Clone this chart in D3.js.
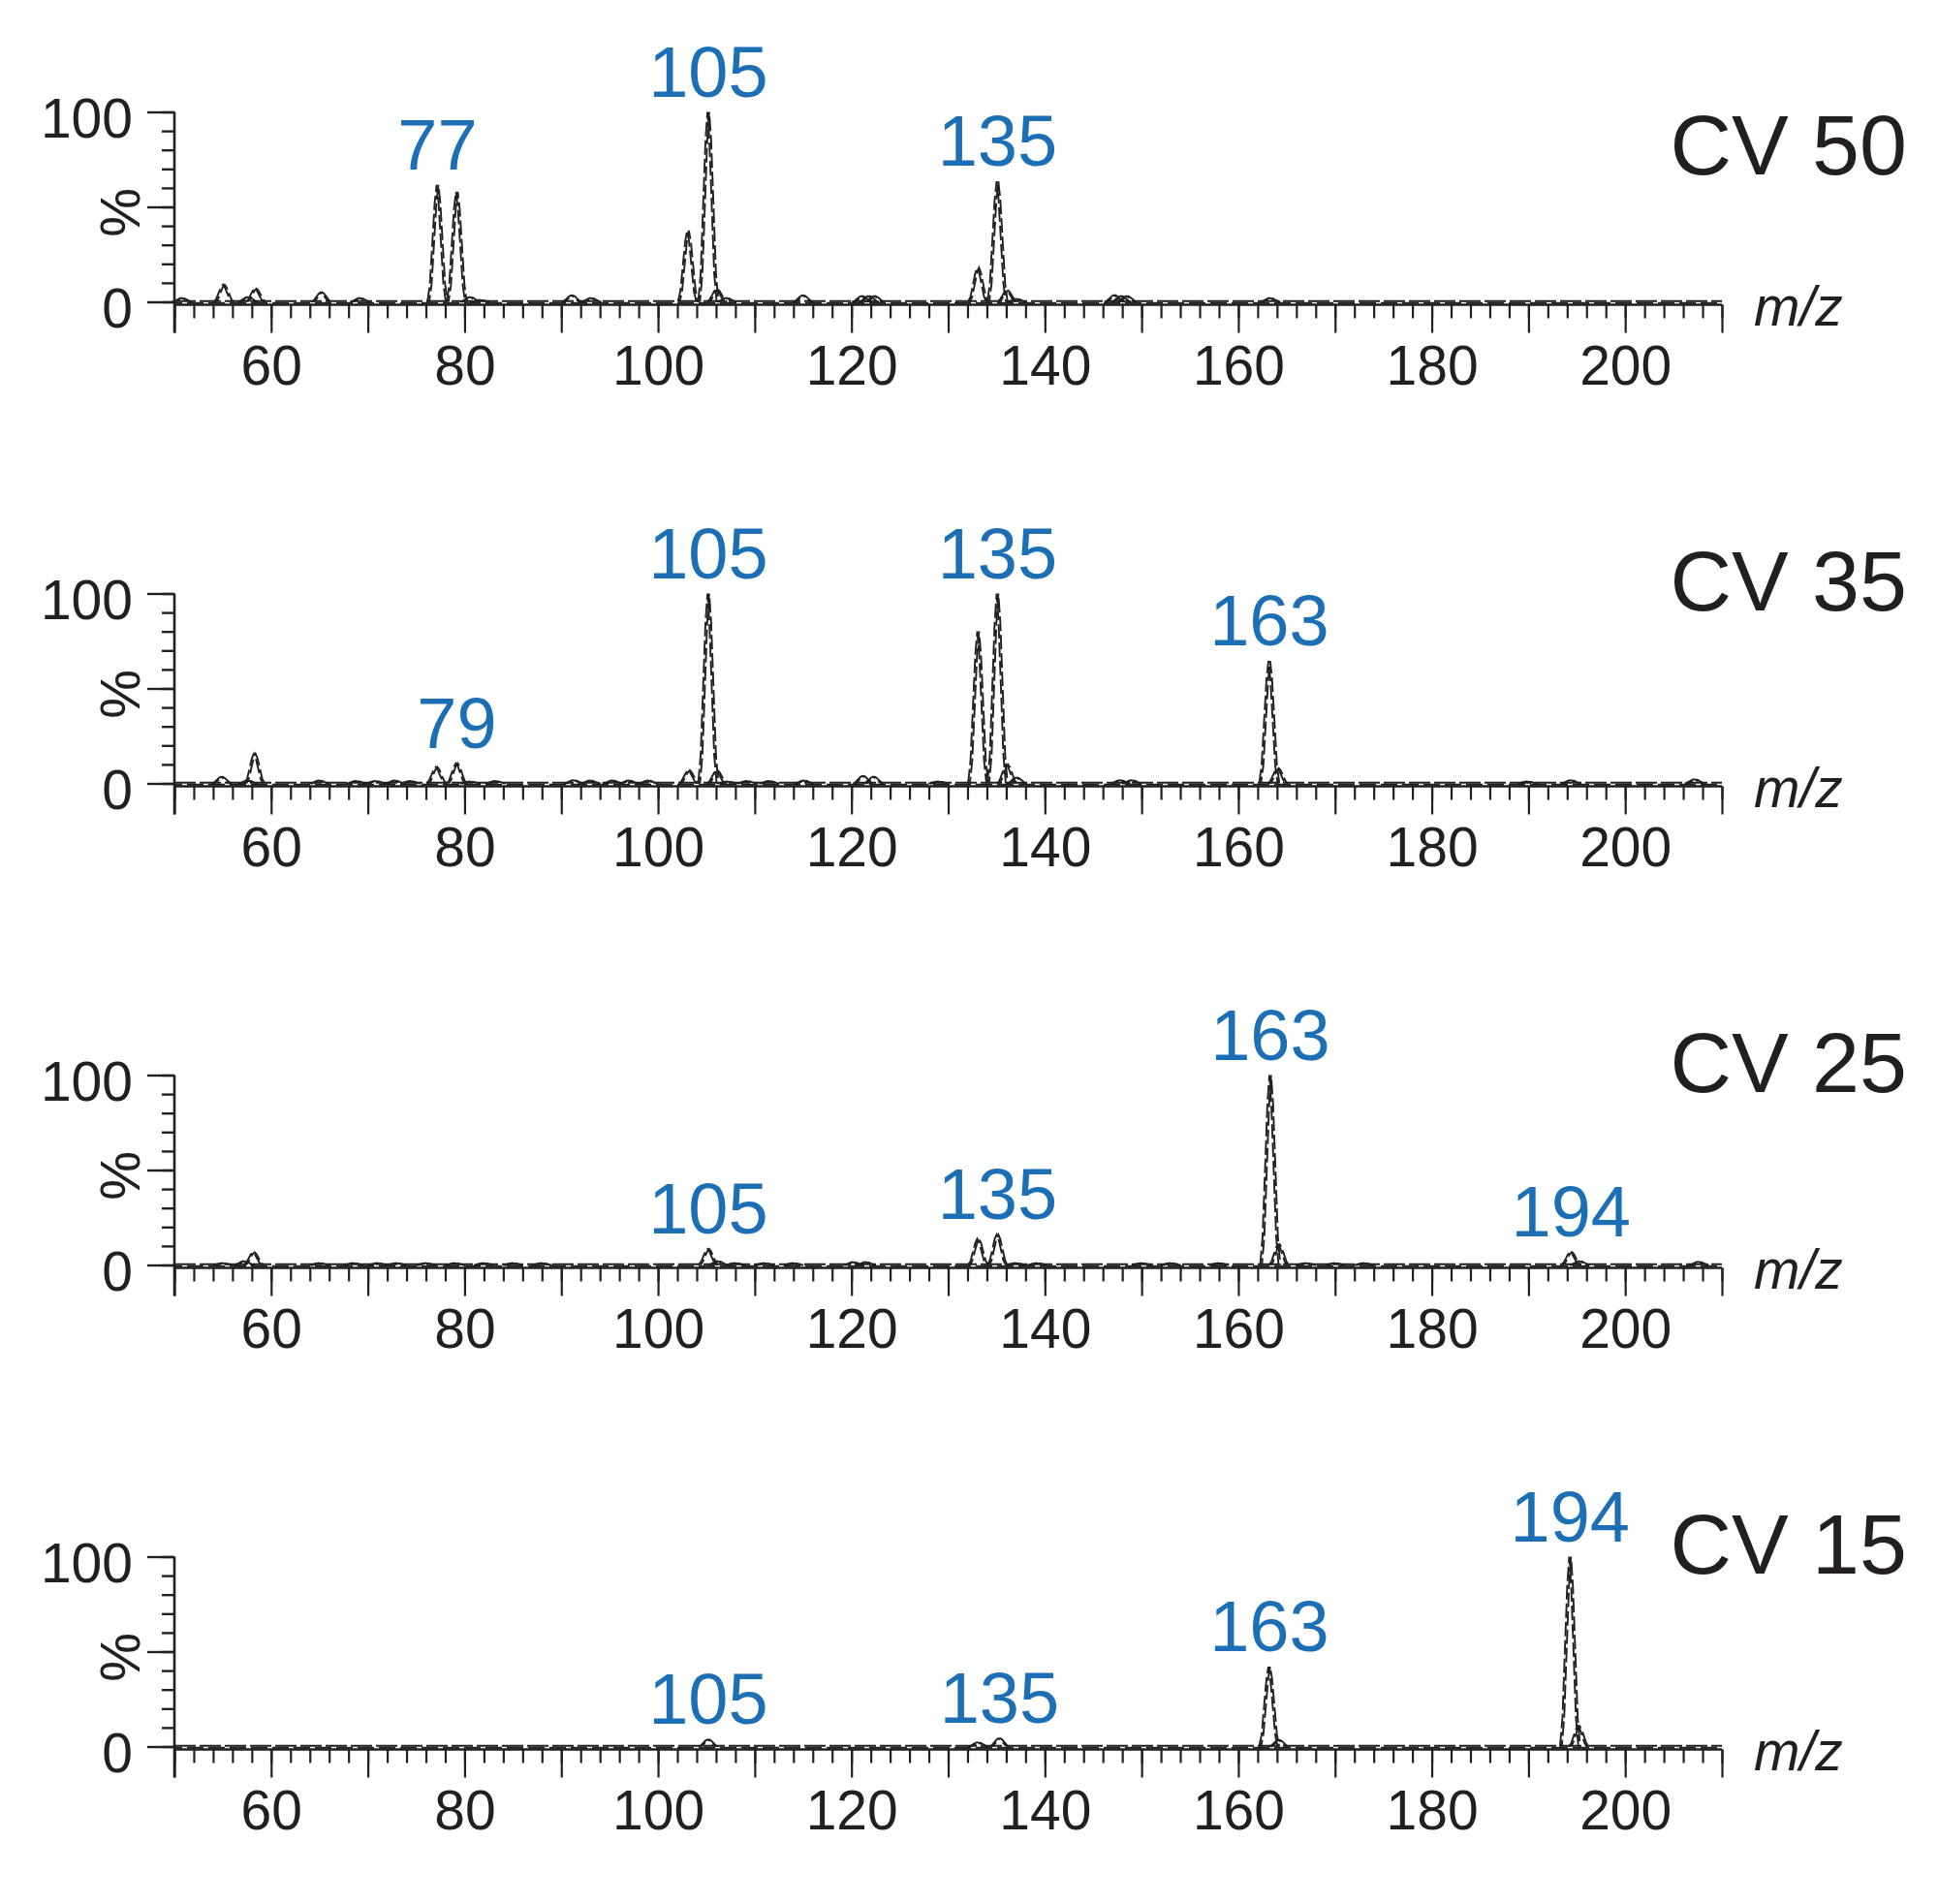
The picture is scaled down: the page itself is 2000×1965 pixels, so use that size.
<!DOCTYPE html>
<html>
<head>
<meta charset="utf-8">
<script src="https://cdn.jsdelivr.net/npm/d3@7"></script>
<style>
  body { margin: 0; background: #ffffff; }
  svg { display: block; }
  text { font-family: "Liberation Sans", Arial, Helvetica, sans-serif; }
</style>
</head>
<body>
<svg id="chart" width="2000" height="1965"></svg>
<script>
// ---------------- DATA ----------------
const panelNames = ["CV 50", "CV 35", "CV 25", "CV 15"];

// [m/z, relative intensity %]
const peaksCV50 = [
  [50.8, 2], [55.1, 9], [57.6, 2.5], [58.4, 7], [65.2, 5], [69.2, 2],
  [77.2, 61.5], [79.2, 58], [80.6, 2.5], [81.6, 1], [91.1, 3.4], [93.1, 2],
  [103.1, 37.5], [105.2, 100], [106.1, 6.5], [107.1, 2], [115.0, 3.4],
  [121.1, 3], [121.8, 3], [122.4, 3], [133.1, 18], [135.1, 63.5], [136.1, 6],
  [137.1, 1.5], [147.2, 3.5], [147.9, 3], [148.5, 3], [163.3, 2]
];
const peaksCV35 = [
  [54.9, 3.4], [57.6, 1.5], [58.3, 15.6], [65.0, 1.5], [68.8, 1.3], [70.8, 1.3],
  [72.8, 1.5], [74.4, 1.3], [77.1, 8.6], [79.2, 10.6], [80.6, 1], [83.2, 1.3],
  [91.3, 1.7], [93.0, 1.5], [95.3, 1.5], [97.0, 1.5], [99.0, 1.5],
  [103.2, 6.9], [105.2, 100], [106.1, 6.7], [107.2, 1], [109.2, 1.3], [111.5, 1.3],
  [115.1, 1.5], [121.2, 3.9], [122.3, 3.5], [129.0, 1], [133.1, 80], [135.1, 100],
  [136.1, 10], [137.1, 3], [147.8, 1.7], [149.0, 1.7], [163.2, 64.5], [164.1, 8],
  [189.9, 1], [194.4, 1.7], [207.2, 2.2]
];
const peaksCV25 = [
  [55.0, 1], [57.2, 2], [58.2, 6.7], [65.0, 1], [68.5, 1], [71.0, 1], [73.0, 1],
  [76.0, 1], [79.0, 1], [82.0, 1], [85.0, 1], [88.0, 1], [105.2, 8.4], [106.2, 2],
  [108.0, 1], [111.0, 1], [114.0, 1], [120.2, 1.5], [121.5, 1.5], [133.1, 13.8],
  [135.1, 16], [137.0, 1], [139.2, 1], [150.0, 1], [153.0, 1], [158.0, 1],
  [163.3, 100], [164.2, 10.8], [167.0, 1], [170.0, 1], [173.0, 1],
  [194.4, 6.8], [195.3, 2], [207.6, 1.7]
];
const peaksCV15 = [
  [105.2, 3.7], [133.1, 2.2], [135.3, 4.3], [163.2, 42], [164.2, 3.4],
  [194.3, 100], [195.2, 10.8]
];
const allPeaks = [peaksCV50, peaksCV35, peaksCV25, peaksCV15];

// annotated m/z values (blue labels)
const labelsCV50 = [77, 105, 135];
const labelsCV35 = [79, 105, 135, 163];
const labelsCV25 = [105, 135, 163, 194];
const labelsCV15 = [105, 135, 163, 194];
const allLabels = [labelsCV50, labelsCV35, labelsCV25, labelsCV15];

const xTickLabels = [60, 80, 100, 120, 140, 160, 180, 200];
const yTickLabels = [0, 100];
const xDomain = [50, 210];
const yDomain = [0, 100];

// ---------------- LAYOUT ----------------
const svg = d3.select("#chart");
const X0 = 180, X1 = 1777;
const plotH = 196;
const firstZero = 311.5, panelStep = 497;
const cvOffsets = [132, 179, 179, 179];
const ink = "#231f20";
const blue = "#1c6fb4";
const fs = 57;

const x = d3.scaleLinear().domain(xDomain).range([X0, X1]);
// peak glyph profile (relative m/z offset, fraction of peak height)
const peakShape = [[-0.95, 0], [-0.7, 0.15], [-0.45, 0.5], [-0.2, 0.85], [0, 1],
                   [0.2, 0.85], [0.45, 0.5], [0.7, 0.15], [0.95, 0]];

allPeaks.forEach((peaks, i) => {
  const y0 = firstZero + i * panelStep;
  const y = d3.scaleLinear().domain(yDomain).range([y0, y0 - plotH]);
  const g = svg.append("g");
  const line = d3.line().x(d => x(d[0])).y(d => y(d[1]));

  // ---- y axis: minor ticks every 10, major at 0/50/100
  const yMinor = d3.axisLeft(y).tickValues(d3.range(0, 101, 10)).tickSize(13).tickSizeOuter(0).tickFormat("");
  const yMajor = d3.axisLeft(y).tickValues([0, 50, 100]).tickSize(28).tickSizeOuter(0).tickPadding(15)
    .tickFormat(d => yTickLabels.includes(d) ? d : "");
  const gy1 = g.append("g").attr("transform", `translate(${X0},0)`).call(yMinor);
  const gy2 = g.append("g").attr("transform", `translate(${X0},0)`).call(yMajor);
  [gy1, gy2].forEach(a => {
    a.select(".domain").remove();
    a.selectAll("line").attr("stroke", ink).attr("stroke-width", 2.4);
  });
  gy2.selectAll("text").attr("font-size", fs).attr("fill", ink).attr("dy", "0.46em")
    .attr("font-family", "'Liberation Sans', Arial, sans-serif");
  // y axis spine
  g.append("line").attr("x1", X0).attr("x2", X0).attr("y1", y(100)).attr("y2", y0 + 3 + 29)
    .attr("stroke", ink).attr("stroke-width", 2.6);

  // ---- x axis: minor every 2, major every 10, labels every 20
  const gx = g.append("g").attr("transform", `translate(0,${y0 + 3})`);
  const xMinor = d3.axisBottom(x).tickValues(d3.range(50, 211, 2)).tickSize(14).tickSizeOuter(0).tickFormat("");
  const xMajor = d3.axisBottom(x).tickValues(d3.range(50, 211, 10)).tickSize(29).tickSizeOuter(0).tickPadding(13)
    .tickFormat(d => xTickLabels.includes(d) ? d : "");
  const gx1 = gx.append("g").call(xMinor);
  const gx2 = gx.append("g").call(xMajor);
  gx1.select(".domain").remove();
  gx2.select(".domain").attr("d", `M${X0},0H${X1}`).attr("stroke", ink).attr("stroke-width", 2.6);
  [gx1, gx2].forEach(a => a.selectAll("line").attr("stroke", ink).attr("stroke-width", 2.2));
  gx2.selectAll("text").attr("font-size", fs).attr("fill", ink)
    .attr("font-family", "'Liberation Sans', Arial, sans-serif");

  // ---- axis titles
  g.append("text").attr("transform", `translate(144,${y0 - 92}) rotate(-90)`)
    .attr("text-anchor", "middle").attr("font-size", fs).attr("fill", ink).text("%");
  g.append("text").attr("x", 1810).attr("y", y0 + 24)
    .attr("font-size", fs).attr("font-style", "italic").attr("fill", ink).text("m/z");

  // ---- spectrum baseline (double dashed trace)
  const base = line([[xDomain[0], 0], [xDomain[1], 0]]);
  g.append("path").attr("d", base).attr("transform", "translate(0,-0.8)")
    .attr("fill", "none").attr("stroke", ink).attr("stroke-width", 2).attr("stroke-dasharray", "22 4");
  g.append("path").attr("d", base).attr("transform", "translate(0,1.2)")
    .attr("fill", "none").attr("stroke", ink).attr("stroke-width", 2).attr("stroke-dasharray", "17 5")
    .attr("stroke-dashoffset", 9);

  // ---- peaks: two slightly offset dashed traces
  const shapeOf = p => line(peakShape.map(([dx, f]) => [p[0] + dx, p[1] * f]));
  g.selectAll("path.pka").data(peaks).join("path").attr("class", "pka")
    .attr("d", shapeOf).attr("transform", "translate(-0.9,0)")
    .attr("fill", "none").attr("stroke", ink).attr("stroke-width", 1.9)
    .attr("stroke-dasharray", "15 4").attr("stroke-linejoin", "miter");
  g.selectAll("path.pkb").data(peaks).join("path").attr("class", "pkb")
    .attr("d", shapeOf).attr("transform", "translate(0.9,0)")
    .attr("fill", "none").attr("stroke", ink).attr("stroke-width", 1.9)
    .attr("stroke-dasharray", "15 4").attr("stroke-dashoffset", 8).attr("stroke-linejoin", "miter");

  // ---- blue peak annotations
  const ann = allLabels[i].map(m => {
    const pk = peaks.reduce((a, b) => Math.abs(b[0] - m) < Math.abs(a[0] - m) ? b : a);
    return { m, pk };
  });
  g.selectAll("text.ann").data(ann).join("text").attr("class", "ann")
    .attr("x", d => x(d.pk[0])).attr("y", d => y(d.pk[1]) - 16)
    .attr("text-anchor", "middle").attr("font-size", 74).attr("fill", blue)
    .text(d => d.m);

  // ---- CV label
  g.append("text").attr("x", 1968).attr("y", y0 - cvOffsets[i])
    .attr("text-anchor", "end").attr("font-size", 88).attr("fill", ink).text(panelNames[i]);
});
</script>
</body>
</html>
